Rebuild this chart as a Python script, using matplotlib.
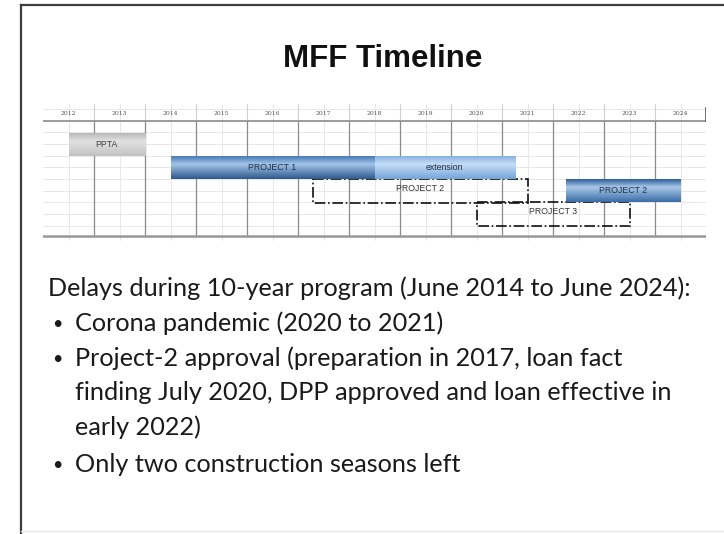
import numpy as np
import matplotlib.pyplot as plt
from matplotlib.patches import Rectangle
from matplotlib.lines import Line2D
from matplotlib.colors import LinearSegmentedColormap

W, H = 724, 534

# year columns of the timeline
years = list(range(2012, 2025))
year_labels = [str(y) for y in years]

# actual / scheduled bars
bar_names = ["PPTA", "PROJECT 1", "extension", "PROJECT 2"]
bar_start = [2012.5, 2014.5, 2018.5, 2022.25]
bar_end = [2014.0, 2018.5, 2021.25, 2024.5]
bar_row = [0, 1, 1, 2]

# original plan (dash-dot outline)
plan_names = ["PROJECT 2", "PROJECT 3"]
plan_start = [2017.3, 2020.5]
plan_end = [2021.5, 2023.5]
plan_row = [2, 3]

title = "MFF Timeline"
heading = "Delays during 10-year program (June 2014 to June 2024):"
bullets = [
    "Corona pandemic (2020 to 2021)",
    "Project-2 approval (preparation in 2017, loan fact\nfinding July 2020, DPP approved and loan effective in\nearly 2022)",
    "Only two construction seasons left",
]

# gradient colours (top, middle, bottom) per bar
bar_grad = [
    ("#b8b8b8", "#e2e2e2", "#c2c2c2"),
    ("#4a7bb6", "#a3c3e8", "#2d5a8e"),
    ("#86b3e3", "#c6ddf5", "#74a5da"),
    ("#2f5f97", "#a9c8ea", "#3b6ca6"),
]
text_col = ["#404040", "#1d2f48", "#1d2f48", "#1d2f48"]


def px(x, y):
    return x / W, 1 - y / H


fig = plt.figure(figsize=(W / 100, H / 100), dpi=100)
fig.patch.set_facecolor("white")

# slide frame
fig.add_artist(Line2D([21 / W, 21 / W], [0, 1 - 5 / H], color="#3c3c3c", lw=1.6))
fig.add_artist(Line2D([21 / W, 1], [1 - 5 / H, 1 - 5 / H], color="#3c3c3c", lw=1.6))
fig.add_artist(Line2D([21 / W, 1], [3 / H, 3 / H], color="#e8e8e8", lw=1))

fig.text(*px(383, 59), title, ha="center", va="center", fontsize=22.5,
         fontweight="bold", family="Liberation Sans", color="#111111")

# timeline axes
left, right, top, bottom = 43, 706, 104, 241
ax = fig.add_axes([left / W, 1 - bottom / H, (right - left) / W, (bottom - top) / H])
ax.axis("off")
x0, x1 = years[0], years[-1] + 1
y_top, y_bot = -1.72, 4.15
row_h = 0.98

# light spreadsheet cells
for xv in np.arange(x0 + 0.5, x1, 1.0):
    ax.plot([xv, xv], [y_top, y_bot], color="#e4e4e4", lw=0.6, zorder=0)
for yv in np.arange(-1.5, 4.2, 0.5):
    ax.plot([x0, x1], [yv, yv], color="#e4e4e4", lw=0.6, zorder=0)

# year columns
for xv in years[1:]:
    ax.plot([xv, xv], [-1.0, 3.95], color="#8a8a8a", lw=0.9, zorder=1)
    ax.plot([xv, xv], [y_top, -1.0], color="#d0d0d0", lw=0.8, zorder=1)
ax.plot([x0, x1], [-1.0, -1.0], color="#8c8c8c", lw=1.2, zorder=1)
ax.plot([x0, x1], [3.95, 3.95], color="#9a9a9a", lw=1.8, zorder=1)
ax.plot([x1, x1], [-1.55, -1.0], color="#555555", lw=1.2, zorder=1)
for yr, lab in zip(years, year_labels):
    ax.text(yr + 0.5, -1.33, lab, ha="center", va="center", fontsize=4.4,
            family="DejaVu Serif", color="#555555")

# gradient bars
for name, s, e, r, g, tc in zip(bar_names, bar_start, bar_end, bar_row, bar_grad, text_col):
    cmap = LinearSegmentedColormap.from_list(name, [(0, g[0]), (0.35, g[1]), (1, g[2])])
    grad = np.linspace(0, 1, 64).reshape(-1, 1)
    ax.imshow(grad, cmap=cmap, aspect="auto", interpolation="bilinear",
              extent=(s, e, r + row_h / 2, r - row_h / 2), origin="upper", zorder=3)
    ax.text((s + e) / 2, r, name, ha="center", va="center", fontsize=6.3,
            family="Liberation Sans", color=tc, zorder=4)

# planned outlines
for name, s, e, r in zip(plan_names, plan_start, plan_end, plan_row):
    ax.add_patch(Rectangle((s, r - 0.52), e - s, 1.04, fill=False, ec="#111111",
                           lw=1.2, ls="-.", zorder=2))
    ax.text((s + e) / 2, r - 0.1, name, ha="center", va="center", fontsize=6.3,
            family="Liberation Sans", color="#333333", zorder=4)

ax.set_xlim(x0, x1)
ax.set_ylim(y_bot, y_top)

# text body
body = dict(fontsize=18.2, family=["Lato", "DejaVu Sans"], color="#1a1a1a", va="center")
fig.text(*px(48, 288), heading, ha="left", **body)
line_y = [323, 358, 464]
for y, b in zip(line_y, bullets):
    fig.text(*px(52, y + 1), "\u2022", ha="left", fontsize=13,
             family=["Lato", "DejaVu Sans"], color="#1a1a1a", va="center")
    for i, part in enumerate(b.split("\n")):
        fig.text(*px(75, y + i * 34.5), part, ha="left", **body)

fig.savefig("out.png", dpi=100)
